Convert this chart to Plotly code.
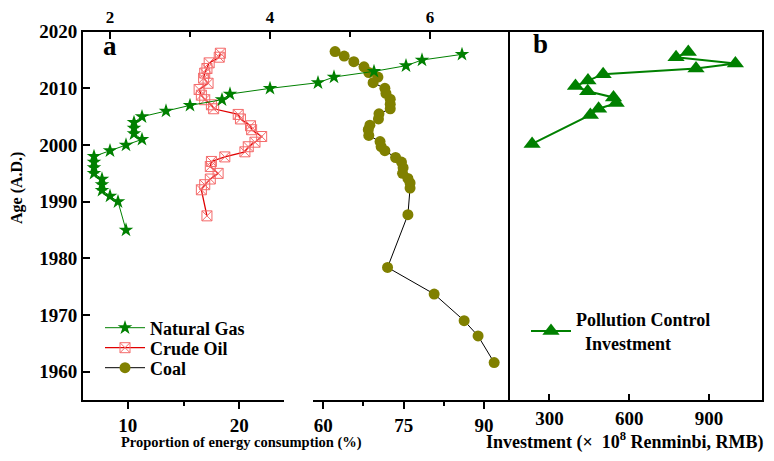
import plotly.graph_objects as go

# ---------------- data ----------------
gas_age = [1985, 1990, 1991, 1992, 1993, 1994, 1995, 1996, 1997, 1998, 1999, 2000,
           2001, 2002, 2003, 2004, 2005, 2006, 2007, 2008, 2009, 2010, 2011, 2012,
           2013, 2014, 2015, 2016]
gas_pct = [2.2, 2.1, 2.0, 1.9, 1.9, 1.9, 1.8, 1.8, 1.8, 1.8, 2.0, 2.2,
           2.4, 2.3, 2.3, 2.3, 2.4, 2.7, 3.0, 3.4, 3.5, 4.0, 4.6, 4.8,
           5.3, 5.7, 5.9, 6.4]

oil_age = [2016.2, 2015.5, 2014.5, 2013.5, 2012.7, 2011.8, 2010.9, 2009.8, 2008.8,
           2008.0, 2007.1, 2006.4, 2005.4, 2004.6, 2003.4, 2002.7, 2001.5, 2000.5,
           1999.7, 1998.8, 1997.9, 1997.1, 1996.2, 1995.0, 1994.0, 1993.0, 1992.1,
           1987.5]
oil_pct = [18.3, 18.2, 17.3, 17.1, 16.9, 16.8, 17.2, 16.4, 16.6,
           16.9, 17.5, 17.7, 19.9, 20.1, 21.0, 21.1, 22.0, 21.4,
           20.8, 20.5, 18.7, 17.5, 17.4, 18.1, 17.4, 16.9, 16.6,
           17.1]

coal_age = [2016.5, 2015.7, 2014.7, 2013.8, 2012.8, 2012.0, 2011.0, 2010.0, 2009.1,
            2008.1, 2007.2, 2006.4, 2005.5, 2004.6, 2003.5, 2002.7, 2001.7, 2000.6,
            1999.7, 1999.0, 1997.8, 1997.0, 1996.0, 1995.0, 1994.1, 1993.3, 1992.4,
            1987.7, 1978.4, 1973.7, 1969.0, 1966.3, 1961.6]
coal_pct = [62.2, 63.9, 65.7, 67.6, 68.5, 70.2, 69.3, 71.5, 71.7,
            72.5, 72.5, 72.5, 70.4, 70.3, 68.7, 68.4, 68.5, 70.6,
            70.8, 71.5, 73.5, 74.6, 74.9, 74.8, 75.8, 76.2, 76.2,
            75.8, 72.0, 80.7, 86.3, 88.9, 91.9]

inv_age = [2000.2, 2005.3, 2006.4, 2007.4, 2008.4, 2009.5, 2010.4, 2011.4,
           2012.5, 2013.5, 2014.4, 2015.5, 2016.4]
inv_val = [235, 454, 485, 551, 541, 444, 398, 445, 502, 851, 999, 776, 822]

age_ticks = [1960, 1970, 1980, 1990, 2000, 2010, 2020]

# ---------------- layout helpers ----------------
# The page body has an 8px margin, so the figure is offset by 8px.
OFF = 8
W, H = 774 - OFF, 461 - OFF
def px_x(p):
    return (p - OFF) / W
def px_y(p):
    return 1 - (p - OFF) / H

FONT = "Liberation Serif"
tickfont = dict(family=FONT, size=19, color="black", weight="bold")
legfont = dict(family=FONT, size=18, color="black", weight="bold")

fig = go.Figure()

fig.add_trace(go.Scatter(
    x=gas_pct, y=gas_age, xaxis="x3", yaxis="y", name="Natural Gas",
    mode="lines+markers", line=dict(color="#008000", width=1),
    marker=dict(symbol="star", size=11, color="#008000"),
    legend="legend",
))
fig.add_trace(go.Scatter(
    x=oil_pct, y=oil_age, xaxis="x", yaxis="y", name="Crude Oil",
    mode="lines+markers", line=dict(color="#e00000", width=1.3),
    marker=dict(symbol="square-x-open", size=10, color="#f46a6a", line=dict(width=1)),
    legend="legend3",
))
fig.add_trace(go.Scatter(
    x=coal_pct, y=coal_age, xaxis="x2", yaxis="y", name="Coal",
    mode="lines+markers", line=dict(color="black", width=1),
    marker=dict(symbol="circle", size=11, color="#808000"),
    legend="legend4",
))
fig.add_trace(go.Scatter(
    x=inv_val, y=inv_age, xaxis="x4", yaxis="y2",
    name="Pollution Control<br>\u00a0\u00a0Investment",
    mode="lines+markers", line=dict(color="#008000", width=2),
    marker=dict(symbol="triangle-up", size=15, color="#008000"),
    legend="legend2",
))

ydom = [px_y(400), px_y(31.7)]
common = dict(showgrid=False, zeroline=False, showline=True, linecolor="black",
              linewidth=2, tickcolor="black", tickwidth=2,
              automargin=False)

def leg(xp, yp):
    return dict(x=px_x(xp), y=px_y(yp), xanchor="left", yanchor="middle",
                bgcolor="rgba(0,0,0,0)", borderwidth=0, itemwidth=40,
                font=legfont)

fig.update_layout(
    width=W, height=H, autosize=False,
    margin=dict(l=0, r=0, t=0, b=0),
    paper_bgcolor="white", plot_bgcolor="rgba(0,0,0,0)",
    font=dict(family=FONT, color="black"),
    xaxis=dict(domain=[px_x(83), px_x(284)], range=[6, 24], anchor="y",
               tickvals=[10, 20], ticks="outside", ticklen=7, tickfont=tickfont,
               minor=dict(tickvals=[15], ticks="outside", ticklen=4, tickwidth=2, tickcolor="black"),
               **common),
    xaxis2=dict(domain=[px_x(313), px_x(510)], range=[58.08, 94.86], anchor="y",
                tickvals=[60, 75, 90], ticks="outside", ticklen=7, tickfont=tickfont,
                minor=dict(tickvals=[67.5, 82.5], ticks="outside", ticklen=4, tickwidth=2, tickcolor="black"),
                **common),
    xaxis3=dict(domain=[px_x(83), px_x(510)], range=[1.6625, 7.0], anchor="y", side="top",
                tickvals=[2, 4, 6], ticks="inside", ticklen=7,
                tickfont=dict(family=FONT, size=17, color="black", weight="bold"),
                minor=dict(tickvals=[3, 5], ticks="inside", ticklen=5, tickwidth=2, tickcolor="black"),
                **common),
    yaxis=dict(domain=ydom, range=[1955, 2020], anchor="x",
               tickvals=age_ticks, ticks="inside", ticklen=7, tickfont=tickfont, **common),
    xaxis4=dict(domain=[px_x(510), px_x(762)], range=[152, 1099], anchor="y2",
                tickvals=[300, 600, 900], ticks="inside", ticklen=6, mirror=True,
                tickfont=tickfont, **common),
    yaxis2=dict(domain=ydom, range=[1955, 2020], anchor="x4",
                showticklabels=False, ticks="", mirror=True, automargin=False,
                showgrid=False, zeroline=False, showline=True, linecolor="black", linewidth=2),
    legend=leg(100, 328),
    legend3=leg(100, 348),
    legend4=leg(100, 368),
    legend2=leg(526, 331),
    showlegend=True,
)

for txt, xp, yp in [("a", 110, 46), ("b", 540, 44)]:
    fig.add_annotation(xref="paper", yref="paper", showarrow=False, xanchor="center", yanchor="middle",
                       x=px_x(xp), y=px_y(yp), text=txt,
                       font=dict(family=FONT, size=27, color="black", weight="bold"))

fig.add_annotation(xref="paper", yref="paper", showarrow=False, x=px_x(241), y=px_y(442),
                   xanchor="center", yanchor="middle", text="Proportion of energy consumption (%)",
                   font=dict(family=FONT, size=14.5, color="black", weight="bold"))
fig.add_annotation(xref="paper", yref="paper", showarrow=False, x=px_x(625), y=px_y(441),
                   xanchor="center", yanchor="middle", text="Investment (×  10<sup>8</sup> Renminbi, RMB)",
                   font=dict(family=FONT, size=18, color="black", weight="bold"))
fig.add_annotation(xref="paper", yref="paper", showarrow=False, x=px_x(17), y=px_y(188),
                   xanchor="center", yanchor="middle", text="Age (A.D.)", textangle=-90,
                   font=dict(family=FONT, size=16, color="black", weight="bold"))

fig.write_html("out.html")
